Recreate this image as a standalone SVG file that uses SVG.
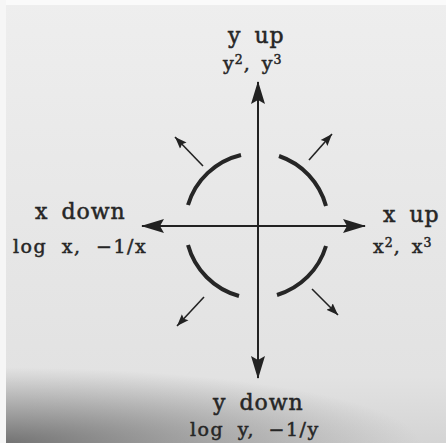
<svg xmlns="http://www.w3.org/2000/svg" width="446" height="443" viewBox="0 0 446 443">
<defs>
<linearGradient id="bg" x1="0" y1="0" x2="0" y2="1">
<stop offset="0" stop-color="#eeeeee"/>
<stop offset="0.85" stop-color="#e2e2e2"/>
<stop offset="1" stop-color="#d4d4d4"/>
</linearGradient>
<radialGradient id="shade" cx="0" cy="443" r="420" gradientUnits="userSpaceOnUse" gradientTransform="translate(0,443) scale(1,0.18) translate(0,-443)">
<stop offset="0" stop-color="#5a5a5a" stop-opacity="0.8"/>
<stop offset="1" stop-color="#6a6a6a" stop-opacity="0"/>
</radialGradient>
<marker id="big" markerUnits="userSpaceOnUse" markerWidth="24" markerHeight="16" refX="22" refY="8" orient="auto" viewBox="0 0 24 16">
<path d="M0,1 L23,8 L0,15 L4,8 Z" fill="#222"/>
</marker>
<marker id="small" markerUnits="userSpaceOnUse" markerWidth="13" markerHeight="10" refX="12" refY="5" orient="auto" viewBox="0 0 13 10">
<path d="M0,0.5 L12,5 L0,9.5 L2,5 Z" fill="#222"/>
</marker>
<style>
.t{font-family:"DejaVu Serif","Liberation Serif",serif;fill:#262626;stroke:#262626;stroke-width:0.5;letter-spacing:1px}
.l1{font-size:22px;word-spacing:5px}
.l2{font-size:19px;word-spacing:4px}
.sup{font-size:12.5px}
.ax{stroke:#222;stroke-width:2;fill:none}
.arc{stroke:#262626;stroke-width:4;fill:none;stroke-linecap:butt}
.sa{stroke:#222;stroke-width:1.6;fill:none}
</style>
</defs>
<rect width="446" height="443" fill="url(#bg)"/>
<rect width="446" height="443" fill="url(#shade)"/>
<rect width="446" height="5" fill="#fafafa"/>
<rect width="6" height="443" fill="#f6f6f6"/>
<g id="connectors">
<line class="ax" x1="258" y1="226" x2="258" y2="82" marker-end="url(#big)"/>
<line class="ax" x1="258" y1="226" x2="258" y2="378" marker-end="url(#big)"/>
<line class="ax" x1="258" y1="226" x2="142" y2="226" marker-end="url(#big)"/>
<line class="ax" x1="258" y1="226" x2="365" y2="226" marker-end="url(#big)"/>
<line class="sa" x1="203" y1="166" x2="175" y2="137" marker-end="url(#small)"/>
<line class="sa" x1="309" y1="160" x2="332" y2="134" marker-end="url(#small)"/>
<line class="sa" x1="204" y1="297" x2="177" y2="326" marker-end="url(#small)"/>
<line class="sa" x1="312" y1="289" x2="338" y2="315" marker-end="url(#small)"/>
</g>
<g id="arcs">
<path class="arc" d="M241,155 A73,73 0 0 0 188,205"/>
<path class="arc" d="M279,156 A73,73 0 0 1 326,206"/>
<path class="arc" d="M188,245 A73,73 0 0 0 239,296"/>
<path class="arc" d="M326,246 A73,73 0 0 1 277,295"/>
</g>
<g id="y-up">
<text class="t l1" x="228" y="43">y up</text>
<text class="t l2" x="223" y="70">y<tspan class="sup" dy="-6">2</tspan><tspan dy="6">, y</tspan><tspan class="sup" dy="-6">3</tspan></text>
</g>
<g id="x-down">
<text class="t l1" x="35" y="219">x down</text>
<text class="t l2" x="13" y="253" style="word-spacing:7px;letter-spacing:1.5px">log x, −1/x</text>
</g>
<g id="x-up">
<text class="t l1" x="383" y="222">x up</text>
<text class="t l2" x="373" y="253">x<tspan class="sup" dy="-6">2</tspan><tspan dy="6">, x</tspan><tspan class="sup" dy="-6">3</tspan></text>
</g>
<g id="y-down">
<text class="t l1" x="213" y="410">y down</text>
<text class="t l2" x="190" y="436" style="word-spacing:6px;letter-spacing:1.5px">log y, −1/y</text>
</g>
</svg>
